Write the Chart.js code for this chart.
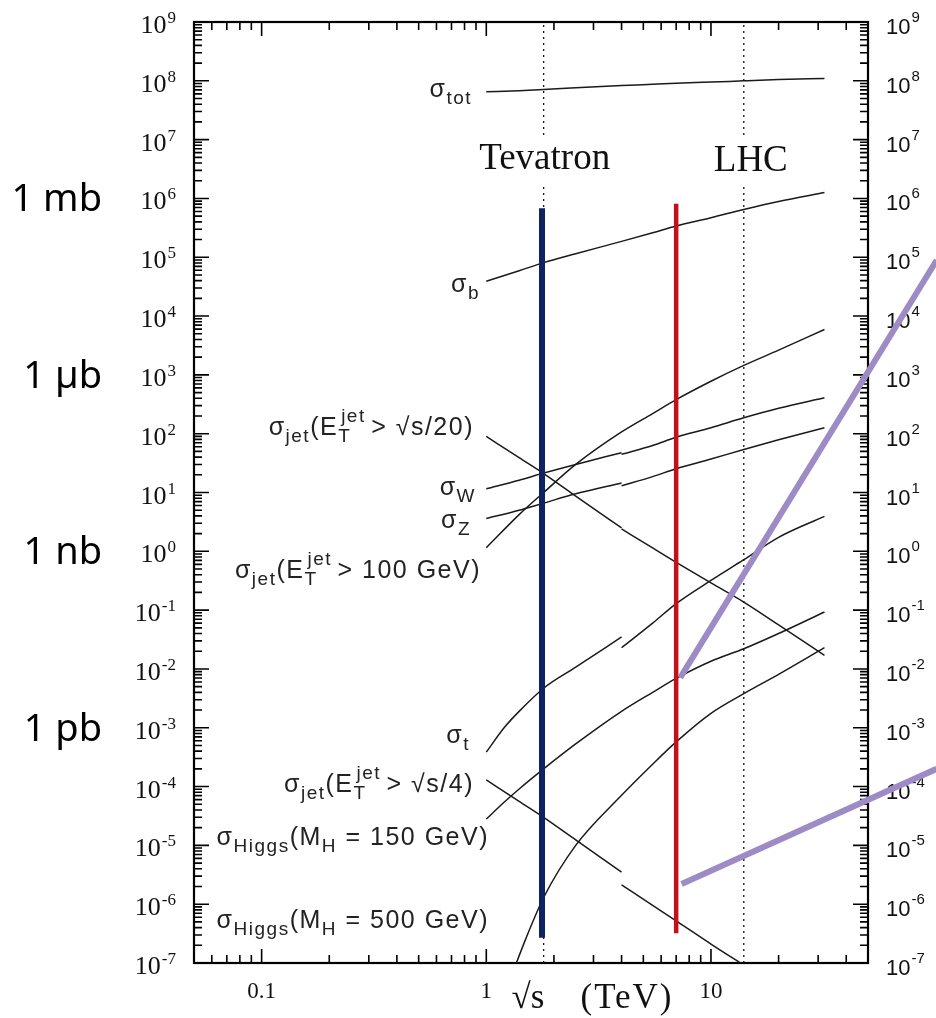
<!DOCTYPE html>
<html>
<head>
<meta charset="utf-8">
<script src="https://cdn.jsdelivr.net/npm/chart.js@4.4.0/dist/chart.umd.min.js"></script>
<style>
  html, body { margin: 0; padding: 0; background: #fff; }
  #wrap { width: 936px; height: 1018px; }
</style>
</head>
<body>
<div id="wrap"><canvas id="grafico" width="936" height="1018"></canvas></div>
<script>
// sqrt(s) in TeV
const energyAll = [1, 1.4, 1.8, 2.5, 4, 5.5, 7, 10, 14, 20, 32];
const energyPpbar = [1, 1.4, 1.8, 2.5, 4];
const energyPp = [4, 5.5, 7, 10, 14, 20, 32];
const energyTopPpbar = [1, 1.2, 1.4, 1.8, 2.5, 4];
const energyHiggs150 = [1, 1.2, 1.4, 1.8, 2.5, 4, 5.5, 7, 10, 14, 20, 32];
const energyHiggs500 = [1.3, 1.5, 1.8, 2.5, 4, 5.5, 7, 10, 14, 20, 32];
const energyJet4Pp = [4, 5.5, 7, 10, 15];

// cross sections in nb
const sigmaTot = [6.5e7, 6.8e7, 7.1e7, 7.6e7, 8.3e7, 8.7e7, 9.1e7, 9.5e7, 1.0e8, 1.05e8, 1.1e8];
const sigmaB = [3.9e4, 5.9e4, 8.1e4, 1.15e5, 1.86e5, 2.6e5, 3.4e5, 4.7e5, 6.5e5, 8.9e5, 1.26e6];
const sigmaJet100 = [1.15, 4.2, 10, 30, 107, 220, 380, 780, 1450, 2630, 5900];
const sigmaWPpbar = [11.6, 16.2, 21.4, 30, 47.5];
const sigmaWPp = [44.7, 63, 87, 126, 186, 270, 407];
const sigmaZPpbar = [3.6, 5.0, 6.6, 9.5, 14.5];
const sigmaZPp = [13.0, 18.6, 25.4, 37, 54, 79, 126];
const sigmaJet20Ppbar = [90, 39, 21, 8.7, 2.5];
const sigmaJet20Pp = [2.4, 1.14, 0.65, 0.29, 0.137, 0.056, 0.017];
const sigmaTopPpbar = [3.85e-4, 1.0e-3, 1.9e-3, 4.7e-3, 1.07e-2, 3.5e-2];
const sigmaTopPp = [0.0229, 0.060, 0.129, 0.32, 0.72, 1.73, 3.93];
const sigmaJet4Ppbar = [1.3e-4, 5.6e-5, 3.0e-5, 1.24e-5, 3.5e-6];
const sigmaJet4Pp = [2.14e-6, 9.5e-7, 5.2e-7, 2.1e-7, 7.8e-8];
const sigmaHiggs150 = [2.8e-5, 5.4e-5, 9.1e-5, 2.0e-4, 5.3e-4, 1.9e-3, 4.0e-3, 6.9e-3, 1.35e-2, 2.2e-2, 4.0e-2, 9.3e-2];
const sigmaHiggs500 = [6.3e-8, 2.6e-7, 1.3e-6, 1.0e-5, 7.1e-5, 2.4e-4, 5.75e-4, 1.76e-3, 3.8e-3, 8.1e-3, 2.3e-2];

// colliders
const runNames = ["Tevatron", "LHC"];
const runEnergies = [1.8, 14];
const barEnergies = [1.77, 7];
const barLow = [2.7e-7, 3.2e-7];
const barHigh = [6.8e5, 8.1e5];

// purple overlay lines
const slopeAEnergy = [7.3, 101];
const slopeAValue = [7.1e-3, 8.9e4];
const slopeBEnergy = [7.4, 101];
const slopeBValue = [2.2e-6, 2.0e-4];

// ticks
const xTickValues = [0.1, 1, 10];
const xTickLabels = ["0.1", "1", "10"];
const yExponents = [-7, -6, -5, -4, -3, -2, -1, 0, 1, 2, 3, 4, 5, 6, 7, 8, 9];
const unitValues = [1e6, 1e3, 1, 1e-3];
const unitLabels = ["1 mb", "1 µb", "1 nb", "1 pb"];

const serif = '"Liberation Serif", "Times New Roman", serif';
const sans = '"Liberation Sans", Arial, sans-serif';

function points(energies, values) {
  return energies.map((e, i) => ({ x: e, y: values[i] }));
}

function curve(energies, values) {
  return {
    data: points(energies, values),
    showLine: true,
    borderColor: "#1a1a1a",
    borderWidth: 1.5,
    pointRadius: 0,
    cubicInterpolationMode: "monotone",
  };
}

function vertical(energy, low, high, color, width, dash) {
  return {
    data: [{ x: energy, y: low }, { x: energy, y: high }],
    showLine: true,
    borderColor: color,
    borderWidth: width,
    borderDash: dash || [],
    pointRadius: 0,
  };
}

function slope(energies, values) {
  return {
    data: points(energies, values),
    showLine: true,
    borderColor: "#9d8bc6",
    borderWidth: 6,
    pointRadius: 0,
    clip: false,
  };
}

// curve labels: [text, kind] n = normal, b = sub, p = sup, bp = sub+sup stacked
const curveLabels = [
  { parts: [["σ", "n"], ["tot", "b"]], right: 472, base: 97 },
  { parts: [["σ", "n"], ["b", "b"]], right: 480, base: 292 },
  { parts: [["σ", "n"], ["jet", "b"], ["(E", "n"], [["T", "jet"], "bp"], [" > √s/20)", "n"]], right: 474, base: 435 },
  { parts: [["σ", "n"], ["W", "b"]], right: 476, base: 495 },
  { parts: [["σ", "n"], ["Z", "b"]], right: 471, base: 528 },
  { parts: [["σ", "n"], ["jet", "b"], ["(E", "n"], [["T", "jet"], "bp"], [" > 100 GeV)", "n"]], right: 481, base: 578 },
  { parts: [["σ", "n"], ["t", "b"]], right: 470, base: 743 },
  { parts: [["σ", "n"], ["jet", "b"], ["(E", "n"], [["T", "jet"], "bp"], [" > √s/4)", "n"]], right: 474, base: 792 },
  { parts: [["σ", "n"], ["Higgs", "b"], ["(M", "n"], ["H", "b"], [" = 150 GeV)", "n"]], right: 489, base: 845 },
  { parts: [["σ", "n"], ["Higgs", "b"], ["(M", "n"], ["H", "b"], [" = 500 GeV)", "n"]], right: 489, base: 928 },
];

const bigFont = "25px " + sans;
const smallFont = "19px " + sans;
const spacing = 1.5;

function textWidth(c, t) {
  return c.measureText(t).width + spacing * t.length;
}

function drawParts(c, parts, right, base) {
  c.letterSpacing = "0px";
  const widths = parts.map(([t, kind]) => {
    if (kind === "bp") {
      c.font = smallFont;
      return Math.max(textWidth(c, t[0]), textWidth(c, t[1]));
    }
    c.font = kind === "n" ? bigFont : smallFont;
    return textWidth(c, t);
  });
  let x = right - widths.reduce((a, b) => a + b, 0);
  c.letterSpacing = spacing + "px";
  parts.forEach(([t, kind], i) => {
    if (kind === "n") {
      c.font = bigFont;
      c.fillText(t, x, base);
    } else if (kind === "b") {
      c.font = smallFont;
      c.fillText(t, x, base + 7);
    } else if (kind === "p") {
      c.font = smallFont;
      c.fillText(t, x, base - 13);
    } else {
      c.font = smallFont;
      c.fillText(t[0], x, base + 7);
      c.fillText(t[1], x + 3, base - 13);
    }
    x += widths[i];
  });
  c.letterSpacing = "0px";
}

function drawPower(c, exp, x, y, align, baseFont, supFont, rise) {
  c.font = baseFont;
  const w1 = c.measureText("10").width;
  c.font = supFont;
  const w2 = c.measureText(String(exp)).width;
  const x0 = align === "right" ? x - w1 - w2 - 1 : x;
  c.textAlign = "left";
  c.font = baseFont;
  c.fillText("10", x0, y);
  c.font = supFont;
  c.fillText(String(exp), x0 + w1 + 1, y - rise);
}

// frame, ticks and all text under the data
const axesPlugin = {
  id: "axesPlugin",
  beforeDatasetsDraw(chart) {
    const c = chart.ctx;
    const a = chart.chartArea;
    const xs = chart.scales.x;
    const ys = chart.scales.y;
    c.save();
    c.strokeStyle = "#000";
    c.fillStyle = "#111";
    c.lineWidth = 1.6;
    c.beginPath();
    for (let e = -2; e <= 1; e++) {
      for (let m = 1; m <= 9; m++) {
        const v = m * Math.pow(10, e);
        if (v < 0.0501 || v > 49.9) continue;
        const px = xs.getPixelForValue(v);
        const len = m === 1 ? 14 : 8;
        c.moveTo(px, a.top); c.lineTo(px, a.top + len);
        c.moveTo(px, a.bottom); c.lineTo(px, a.bottom - len);
      }
    }
    for (let e = -7; e <= 8; e++) {
      for (let m = 1; m <= 9; m++) {
        const v = m * Math.pow(10, e);
        const py = ys.getPixelForValue(v);
        const len = m === 1 ? 15 : 8;
        c.moveTo(a.left, py); c.lineTo(a.left + len, py);
        c.moveTo(a.right, py); c.lineTo(a.right - len, py);
      }
    }
    c.stroke();
    c.lineWidth = 2.2;
    c.strokeRect(a.left, a.top, a.right - a.left, a.bottom - a.top);

    // y labels
    c.textBaseline = "alphabetic";
    yExponents.forEach((exp) => {
      const py = ys.getPixelForValue(Math.pow(10, exp));
      drawPower(c, exp, 176, py + 11, "right", "26px " + serif, "17px " + serif, 10);
      drawPower(c, exp, 886, py + 12, "left", "22px " + sans, "15px " + sans, 12);
    });

    // x labels
    c.textAlign = "center";
    c.font = "23px " + serif;
    xTickValues.forEach((v, i) => {
      c.fillText(xTickLabels[i], xs.getPixelForValue(v), 998);
    });
    c.font = "35px " + serif;
    c.fillText("√s", 528, 1008);
    c.letterSpacing = "2px";
    c.fillText("(TeV)", 627, 1008);
    c.letterSpacing = "0px";

    // unit labels
    c.textAlign = "right";
    c.fillStyle = "#000";
    c.font = '38px "Noto Sans", sans-serif';
    unitValues.forEach((v, i) => {
      c.fillText(unitLabels[i], 102, ys.getPixelForValue(v) + 13);
    });

    // curve labels
    c.textAlign = "left";
    c.fillStyle = "#222";
    curveLabels.forEach((l) => drawParts(c, l.parts, l.right, l.base));
    c.restore();
  },
  afterDatasetsDraw(chart) {
    const c = chart.ctx;
    const xs = chart.scales.x;
    const offsets = [1, 7];
    const bases = [169, 171];
    c.save();
    c.font = "37px " + serif;
    c.textAlign = "center";
    runNames.forEach((name, i) => {
      const cx = xs.getPixelForValue(runEnergies[i]) + offsets[i];
      const w = c.measureText(name).width;
      c.fillStyle = "#fff";
      c.fillRect(cx - w / 2 - 2, 137, w + 4, 46);
      c.fillStyle = "#111";
      c.fillText(name, cx, bases[i]);
    });
    c.restore();
  },
};

const datasets = [
  slope(slopeAEnergy, slopeAValue),
  slope(slopeBEnergy, slopeBValue),
  vertical(barEnergies[0], barLow[0], barHigh[0], "#0f2262", 6),
  vertical(barEnergies[1], barLow[1], barHigh[1], "#c4101a", 4.5),
  vertical(runEnergies[0], 1e-7, 1e9, "#111", 1.3, [2, 4]),
  vertical(runEnergies[1], 1e-7, 1e9, "#111", 1.3, [2, 4]),
  curve(energyAll, sigmaTot),
  curve(energyAll, sigmaB),
  curve(energyAll, sigmaJet100),
  curve(energyPpbar, sigmaWPpbar),
  curve(energyPp, sigmaWPp),
  curve(energyPpbar, sigmaZPpbar),
  curve(energyPp, sigmaZPp),
  curve(energyPpbar, sigmaJet20Ppbar),
  curve(energyPp, sigmaJet20Pp),
  curve(energyTopPpbar, sigmaTopPpbar),
  curve(energyPp, sigmaTopPp),
  curve(energyPpbar, sigmaJet4Ppbar),
  curve(energyJet4Pp, sigmaJet4Pp),
  curve(energyHiggs150, sigmaHiggs150),
  curve(energyHiggs500, sigmaHiggs500),
];

new Chart(document.getElementById("grafico").getContext("2d"), {
  type: "scatter",
  data: { datasets },
  options: {
    responsive: false,
    animation: false,
    devicePixelRatio: 1,
    layout: { padding: { left: 194, right: 68, top: 22, bottom: 55 } },
    plugins: { legend: { display: false }, tooltip: { enabled: false } },
    scales: {
      x: { type: "logarithmic", min: 0.05, max: 50, display: false },
      y: { type: "logarithmic", min: 1e-7, max: 1e9, display: false },
    },
  },
  plugins: [axesPlugin],
});
</script>
</body>
</html>
